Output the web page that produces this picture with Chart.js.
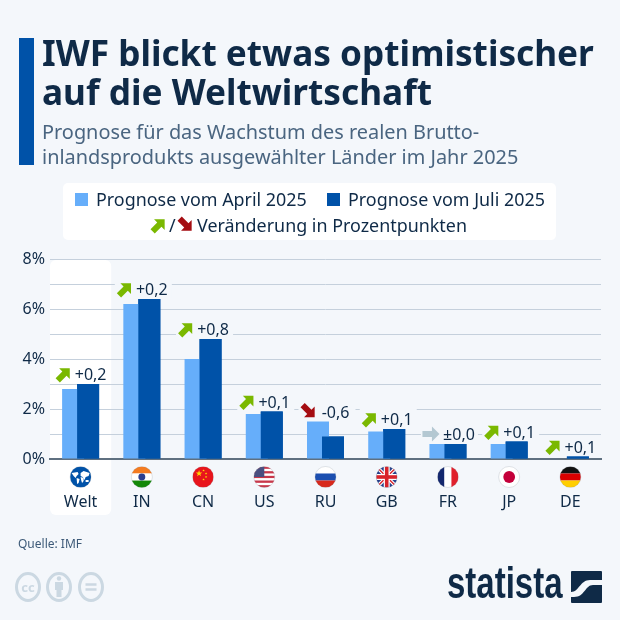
<!DOCTYPE html>
<html lang="de"><head><meta charset="utf-8">
<script src="https://cdn.jsdelivr.net/npm/chart.js@4"></script>
<style>
html,body{margin:0;padding:0;background:#f4f7fb;width:620px;height:620px;overflow:hidden}
body{position:relative;font-family:"Noto Sans",sans-serif;color:#0f2a47}
div{position:absolute;white-space:nowrap}
canvas{position:absolute;left:0;top:0}
svg{position:absolute}
</style></head><body>
<canvas id="c" width="620" height="620"></canvas>
<div style="left:19px;top:38px;width:15px;height:127px;background:#0052a8"></div>
<div style="left:42px;top:33px;font-size:35.2px;font-weight:700;line-height:39px;color:#0f2a47">IWF blickt etwas optimistischer<br>auf die Weltwirtschaft</div>
<div style="left:42px;top:119px;font-size:19.9px;line-height:25px;color:#4a6580">Prognose für das Wachstum des realen Brutto-<br>inlandsprodukts ausgewählter Länder im Jahr 2025</div>
<div style="left:63px;top:183px;width:493px;height:57px;background:#fff;border-radius:5px"></div>
<div style="left:75px;top:193px;width:13px;height:13px;background:#66aefa"></div>
<div id="l1" style="left:96px;top:187px;font-size:17.9px;line-height:24px"></div>
<div style="left:327px;top:193px;width:13px;height:13px;background:#0052a8"></div>
<div id="l2" style="left:348px;top:187px;font-size:17.9px;line-height:24px"></div>
<svg style="left:150px;top:216px" width="18" height="18" viewBox="-9 -9 18 18"><path transform="rotate(-45)" fill="#7ab800" d="M-9,-3H.5V-7.5L8,0L.5,7.5V3H-9Z"/></svg>
<div style="left:169px;top:213px;font-size:17.9px;line-height:24px">/</div>
<svg style="left:177px;top:216px" width="18" height="18" viewBox="-9 -9 18 18"><path transform="rotate(45)" fill="#a50d12" d="M-9,-3H.5V-7.5L8,0L.5,7.5V3H-9Z"/></svg>
<div style="left:197px;top:213px;font-size:17.9px;line-height:24px">Veränderung in Prozentpunkten</div>
<div style="left:18px;top:535px;font-size:12px;line-height:18px;color:#3d5a78">Quelle: IMF</div>
<svg style="left:14px;top:570px" width="96" height="34" viewBox="0 0 96 34" fill="none" stroke="#cbd8e2" stroke-width="3">
<ellipse cx="14" cy="17" rx="11.5" ry="13.5"/><ellipse cx="45" cy="17" rx="11.5" ry="13.5"/><ellipse cx="77" cy="17" rx="11.5" ry="13.5"/>
<text x="14" y="21.5" font-family="Noto Sans" font-size="13" font-weight="700" text-anchor="middle" fill="#cbd8e2" stroke="none">cc</text>
<circle cx="45" cy="8.5" r="2.2" fill="#cbd8e2" stroke="none"/><path d="M41,12H49V20H47.5V27H42.5V20H41Z" fill="#cbd8e2" stroke="none"/>
<path d="M71.5,14.5H82.5M71.5,19.5H82.5" stroke-width="2.6"/></svg>
<div style="left:447px;top:558px;font-family:'Liberation Sans Narrow','Liberation Sans';font-weight:700;font-size:44px;line-height:50px;color:#0f2a47;transform-origin:0 0;transform:scaleX(.75)">statista</div>
<svg style="left:571px;top:571px" width="31" height="32" viewBox="0 0 31 32"><rect width="31" height="32" rx="1" fill="#0f2a47"/><path d="M0,21C8,21 9,9 19,9H31V14H22C14,14 14,26 3,26H0Z" fill="#f4f7fb"/></svg>
<script>
const categories=["Welt","IN","CN","US","RU","GB","FR","JP","DE"];
const seriesNames=["Prognose vom April 2025","Prognose vom Juli 2025"];
const april=[2.8,6.2,4.0,1.8,1.5,1.1,0.6,0.6,0];
const juli=[3.0,6.4,4.8,1.9,0.9,1.2,0.6,0.7,0.1];
const changes=["+0,2","+0,2","+0,8","+0,1","-0,6","+0,1","±0,0","+0,1","+0,1"];
const yTicks=[0,2,4,6,8];
const BG="#f4f7fb",INK="#0f2a47",FONT="Noto Sans";
document.getElementById("l1").textContent=seriesNames[0];
document.getElementById("l2").textContent=seriesNames[1];

function arrow(ctx,x,y,dir){
  ctx.save();ctx.translate(x,y);
  ctx.rotate(dir>0?-Math.PI/4:dir<0?Math.PI/4:0);
  ctx.fillStyle=dir>0?"#7ab800":dir<0?"#a50d12":"#b4c8d2";
  ctx.beginPath();
  const p=[[-9,-3],[.5,-3],[.5,-7.5],[8,0],[.5,7.5],[.5,3],[-9,3]];
  p.forEach((q,i)=>i?ctx.lineTo(q[0],q[1]):ctx.moveTo(q[0],q[1]));
  ctx.closePath();ctx.fill();ctx.restore();
}
function star(ctx,x,y,r){
  ctx.beginPath();
  for(let i=0;i<10;i++){const a=-Math.PI/2+i*Math.PI/5,q=i%2?r*.4:r;ctx.lineTo(x+q*Math.cos(a),y+q*Math.sin(a));}
  ctx.closePath();ctx.fill();
}
function blob(c,pts){c.beginPath();pts.forEach((q,i)=>i?c.lineTo(q[0],q[1]):c.moveTo(q[0],q[1]));c.closePath();c.fill();}
const flags={
 Welt(c,r){c.fillStyle="#0052a8";c.fillRect(-r,-r,2*r,2*r);c.fillStyle="#fff";
  blob(c,[[-9,-4],[-3,-5],[-2,-3],[-4,-1],[-5,1],[-7,-1]]);
  blob(c,[[-4,1],[-1,2],[-2,6],[-3.5,7]]);
  blob(c,[[0,-4],[3,-6],[9,-4],[8,-1],[5,0],[4,3],[2,0],[0,-1]]);
  blob(c,[[0,0],[3,1],[3,4],[1.5,6],[.5,3]]);
  blob(c,[[5,3],[8,3],[8,5],[5,5]]);},
 IN(c,r){c.fillStyle="#f47b20";c.fillRect(-r,-r,2*r,r*.68);c.fillStyle="#fff";c.fillRect(-r,-r*.34,2*r,r*.68);c.fillStyle="#138808";c.fillRect(-r,r*.34,2*r,r);
  c.fillStyle="#2c3e8f";c.beginPath();c.arc(0,0,r*.33,0,7);c.fill();},
 CN(c,r){c.fillStyle="#e8141c";c.fillRect(-r,-r,2*r,2*r);c.fillStyle="#ffd700";star(c,-4,-3.5,3.4);
  [[0.5,-6.5],[3,-3.5],[3,0],[0.5,2.5]].forEach(p=>star(c,p[0],p[1],1.3));},
 US(c,r){for(let i=0;i<9;i++){c.fillStyle=i%2?"#fff":"#c8374a";c.fillRect(-r,-r+i*2*r/9,2*r,2*r/9+.3);}
  c.fillStyle="#4a4f80";c.fillRect(-r,-r,r,r);},
 RU(c,r){c.fillStyle="#fff";c.fillRect(-r,-r,2*r,2*r/3);c.fillStyle="#1c4fb0";c.fillRect(-r,-r/3,2*r,2*r/3);c.fillStyle="#d8291c";c.fillRect(-r,r/3,2*r,2*r/3);},
 GB(c,r){c.fillStyle="#27408b";c.fillRect(-r,-r,2*r,2*r);c.strokeStyle="#fff";c.lineWidth=3.6;
  c.beginPath();c.moveTo(-r,-r);c.lineTo(r,r);c.moveTo(r,-r);c.lineTo(-r,r);c.stroke();
  c.strokeStyle="#d8232a";c.lineWidth=1.4;c.stroke();
  c.fillStyle="#fff";c.fillRect(-r,-3,2*r,6);c.fillRect(-3,-r,6,2*r);
  c.fillStyle="#d8232a";c.fillRect(-r,-1.8,2*r,3.6);c.fillRect(-1.8,-r,3.6,2*r);},
 FR(c,r){c.fillStyle="#14286e";c.fillRect(-r,-r,2*r/3,2*r);c.fillStyle="#fff";c.fillRect(-r/3,-r,2*r/3,2*r);c.fillStyle="#e0202c";c.fillRect(r/3,-r,2*r/3,2*r);},
 JP(c,r){c.fillStyle="#fff";c.fillRect(-r,-r,2*r,2*r);c.fillStyle="#c4003a";c.beginPath();c.arc(0,0,r*.56,0,7);c.fill();},
 DE(c,r){c.fillStyle="#111";c.fillRect(-r,-r,2*r,2*r/3);c.fillStyle="#d80000";c.fillRect(-r,-r/3,2*r,2*r/3);c.fillStyle="#ffce00";c.fillRect(-r,r/3,2*r,2*r/3);}
};
const welt={id:"welt",beforeDraw(ch){
  const x=ch.scales.x,c=ch.ctx,step=x.getPixelForValue(1)-x.getPixelForValue(0);
  c.save();c.fillStyle="#fff";c.beginPath();
  c.roundRect(x.getPixelForValue(0)-step/2,ch.chartArea.top+1,step,ch.chartArea.height+55,6);c.fill();c.restore();
}};
const layering={id:"layering",afterDatasetDraw(ch,args){
  if(args.index===0)ch.getDatasetMeta(1).controller.draw();
}};
const marks={id:"marks",afterDraw(ch){
  const x=ch.scales.x,y=ch.scales.y,c=ch.ctx;
  c.save();
  categories.forEach((name,i)=>{
    const cx=x.getPixelForValue(i),top=y.getPixelForValue(Math.max(april[i],juli[i]));
    const yc=top-10;
    const s=changes[i],dir=s[0]=="+"?1:s[0]=="-"?-1:0;
    c.fillStyle=i==0?"#fff":BG;
    c.fillRect(cx-27,yc-10,57,19);
    arrow(c,cx-16.5,yc,dir);
    c.fillStyle=INK;c.font='16px "'+FONT+'"';c.textAlign="center";c.textBaseline="middle";
    c.fillText(s,cx+(dir==0?11:10),yc+1.5);
    c.save();c.translate(cx,y.getPixelForValue(0)+18);
    c.beginPath();c.arc(0,0,10.5,0,7);c.clip();
    flags[name](c,10.5);
    c.restore();
    c.beginPath();c.arc(cx,y.getPixelForValue(0)+18,10.5,0,7);c.strokeStyle="rgba(120,130,140,.25)";c.lineWidth=.8;c.stroke();
  });
  c.restore();
}};
new Chart(document.getElementById("c"),{
  type:"bar",
  data:{labels:categories,datasets:[
    {label:seriesNames[0],data:april,backgroundColor:"#66aefa"},
    {label:seriesNames[1],data:juli,backgroundColor:"#0052a8"}
  ]},
  options:{
    responsive:false,animation:false,devicePixelRatio:1,
    layout:{padding:{top:259,right:19,left:0,bottom:0}},
    datasets:{bar:{categoryPercentage:.49,barPercentage:1.467,borderWidth:0}},
    plugins:{legend:{display:false},title:{display:false},tooltip:{enabled:false}},
    scales:{
      x:{grid:{display:false},border:{color:"#5f7080",width:2},
         ticks:{color:INK,font:{family:FONT,size:16},padding:26,maxRotation:0,autoSkip:false},
         afterFit(s){s.height=161;}},
      y:{min:0,max:8,grid:{color:"#c5d0dc",lineWidth:1,drawTicks:false},border:{display:false},
         ticks:{stepSize:1,padding:5,color:INK,font:{family:FONT,size:16},
           callback(v){return yTicks.includes(v)?v+"%":"";}},
         afterFit(s){s.width=50;}}
    }
  },
  plugins:[welt,layering,marks]
});
</script></body></html>
